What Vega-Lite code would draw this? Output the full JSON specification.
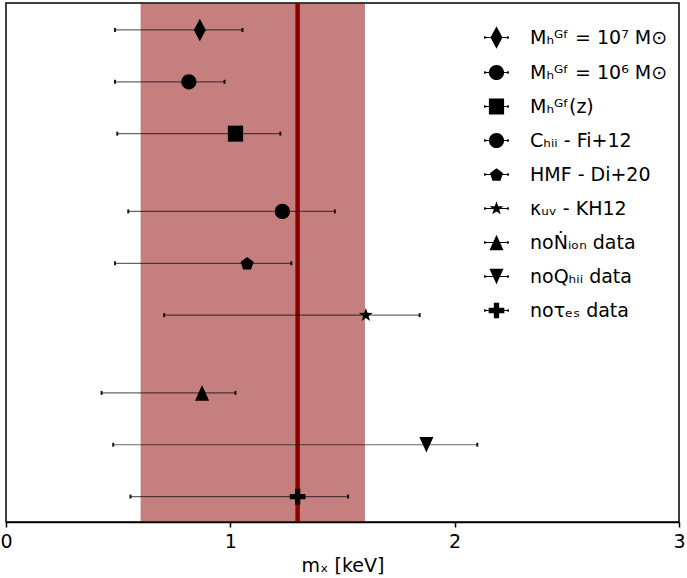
{
  "$schema": "https://vega.github.io/schema/vega-lite/v6.json",
  "width": 673,
  "height": 519,
  "autosize": {"type": "none"},
  "padding": {"left": 6, "top": 3, "right": 8, "bottom": 56},
  "background": "white",
  "config": {
    "font": "DejaVu Sans",
    "view": {"stroke": "black", "strokeWidth": 1.5},
    "axis": {"grid": false}
  },
  "datasets": {
    "pts": [
      {"pos": 0, "label": "Mₕᴳᶠ = 10⁷ M⊙", "mx": 0.864, "lo": 0.486, "hi": 1.054},
      {"pos": 1, "label": "Mₕᴳᶠ = 10⁶ M⊙", "mx": 0.815, "lo": 0.486, "hi": 0.974},
      {"pos": 2, "label": "Mₕᴳᶠ(z)", "mx": 1.023, "lo": 0.496, "hi": 1.223},
      {"pos": 3.5, "label": "Cₕᵢᵢ - Fi+12", "mx": 1.232, "lo": 0.545, "hi": 1.466},
      {"pos": 4.5, "label": "HMF - Di+20", "mx": 1.075, "lo": 0.486, "hi": 1.272},
      {"pos": 5.5, "label": "κᵤᵥ - KH12", "mx": 1.604, "lo": 0.705, "hi": 1.844},
      {"pos": 7, "label": "noṄᵢₒₙ data", "mx": 0.874, "lo": 0.426, "hi": 1.023},
      {"pos": 8, "label": "noQₕᵢᵢ data", "mx": 1.874, "lo": 0.478, "hi": 2.101},
      {"pos": 9, "label": "noτₑₛ data", "mx": 1.3, "lo": 0.555, "hi": 1.525}
    ],
    "band": [{"lo": 0.6, "hi": 1.6, "best": 1.3}]
  },
  "encoding": {},
  "layer": [
    {
      "data": {"name": "band"},
      "mark": {"type": "rect", "color": "#8b0000", "opacity": 0.5},
      "encoding": {
        "x": {"field": "lo", "type": "quantitative", "title": "mₓ [keV]", "scale": {"domain": [0, 3], "nice": false, "zero": false},
          "axis": {"values": [0, 1, 2, 3], "format": "d", "title": "mₓ [keV]", "labelFontSize": 19, "titleFontSize": 19, "titleFontWeight": "normal",
            "labelColor": "black", "titleColor": "black", "domainColor": "black", "domainWidth": 1.5, "tickColor": "black", "tickWidth": 1.5,
            "tickSize": 5, "labelPadding": 5, "titlePadding": 5, "labelFlush": false}},
        "x2": {"field": "hi"}
      }
    },
    {
      "data": {"name": "band"},
      "mark": {"type": "rule", "color": "#8b0000", "strokeWidth": 4.5},
      "encoding": {"x": {"field": "best", "type": "quantitative", "title": "mₓ [keV]"}}
    },
    {
      "data": {"name": "pts"},
      "mark": {"type": "errorbar", "ticks": {"size": 4, "thickness": 2, "color": "black", "opacity": 0.9}, "rule": {"strokeWidth": 1.2, "color": "black", "opacity": 0.6}},
      "encoding": {
        "x": {"field": "lo", "type": "quantitative", "title": "mₓ [keV]"},
        "x2": {"field": "hi"},
        "y": {"field": "pos", "type": "quantitative", "scale": {"domain": [-0.52, 9.49], "reverse": true, "nice": false, "zero": false}, "axis": null}
      }
    },
    {
      "data": {"name": "pts"},
      "mark": {"type": "point", "filled": true, "color": "black", "opacity": 1, "size": 256, "strokeWidth": 0},
      "encoding": {
        "x": {"field": "mx", "type": "quantitative", "title": "mₓ [keV]"},
        "y": {"field": "pos", "type": "quantitative"},
        "shape": {
          "field": "label", "type": "nominal", "legend": null,
          "scale": {
            "domain": ["Mₕᴳᶠ = 10⁷ M⊙", "Mₕᴳᶠ = 10⁶ M⊙", "Mₕᴳᶠ(z)", "Cₕᵢᵢ - Fi+12", "HMF - Di+20", "κᵤᵥ - KH12", "noṄᵢₒₙ data", "noQₕᵢᵢ data", "noτₑₛ data"],
            "range": [
              "M0,-1.4L0.75,0L0,1.4L-0.75,0Z",
              "M0.95,0A0.95,0.95,0,1,1,-0.95,0A0.95,0.95,0,1,1,0.95,0Z",
              "M-0.95,-1H0.95V1H-0.95Z",
              "M0.95,0A0.95,0.95,0,1,1,-0.95,0A0.95,0.95,0,1,1,0.95,0Z",
              "M0,-0.77L0.81,-0.18L0.5,0.77L-0.5,0.77L-0.81,-0.18Z",
              "M0,-0.9L0.212,-0.291L0.856,-0.278L0.342,0.111L0.529,0.728L0,0.36L-0.529,0.728L-0.342,0.111L-0.856,-0.278L-0.212,-0.291Z",
              "M0,-0.98L0.88,0.98L-0.88,0.98Z",
              "M0,0.98L-0.88,-0.98L0.88,-0.98Z",
              "M-0.33,-0.98H0.33V-0.33H0.98V0.33H0.33V0.98H-0.33V0.33H-0.98V-0.33H-0.33Z"
            ]
          }
        }
      }
    },
    {
      "data": {"name": "pts"},
      "mark": {"type": "point", "filled": true, "color": "black", "opacity": 0, "size": 256, "strokeWidth": 0},
      "encoding": {
        "x": {"field": "mx", "type": "quantitative", "title": "mₓ [keV]"},
        "y": {"field": "pos", "type": "quantitative"},
        "shape": {
          "field": "label", "type": "nominal",
          "legend": {
            "title": null, "orient": "none", "legendX": 481, "legendY": 25,
            "symbolSize": 256, "symbolOpacity": 1, "symbolFillColor": "black", "symbolStrokeWidth": 0,
            "labelFontSize": 19, "labelColor": "black", "labelLimit": 300, "labelOffset": 24, "rowPadding": 14
          },
          "scale": {
            "domain": ["Mₕᴳᶠ = 10⁷ M⊙", "Mₕᴳᶠ = 10⁶ M⊙", "Mₕᴳᶠ(z)", "Cₕᵢᵢ - Fi+12", "HMF - Di+20", "κᵤᵥ - KH12", "noṄᵢₒₙ data", "noQₕᵢᵢ data", "noτₑₛ data"],
            "range": [
              "M0,-1.4L0.75,0L0,1.4L-0.75,0Z M-1.45,-0.06H1.45V0.06H-1.45Z M-1.55,-0.16H-1.35V0.16H-1.55Z M1.35,-0.16H1.55V0.16H1.35Z",
              "M0.95,0A0.95,0.95,0,1,1,-0.95,0A0.95,0.95,0,1,1,0.95,0Z M-1.45,-0.06H1.45V0.06H-1.45Z M-1.55,-0.16H-1.35V0.16H-1.55Z M1.35,-0.16H1.55V0.16H1.35Z",
              "M-0.95,-1H0.95V1H-0.95Z M-1.45,-0.06H1.45V0.06H-1.45Z M-1.55,-0.16H-1.35V0.16H-1.55Z M1.35,-0.16H1.55V0.16H1.35Z",
              "M0.95,0A0.95,0.95,0,1,1,-0.95,0A0.95,0.95,0,1,1,0.95,0Z M-1.45,-0.06H1.45V0.06H-1.45Z M-1.55,-0.16H-1.35V0.16H-1.55Z M1.35,-0.16H1.55V0.16H1.35Z",
              "M0,-0.77L0.81,-0.18L0.5,0.77L-0.5,0.77L-0.81,-0.18Z M-1.45,-0.06H1.45V0.06H-1.45Z M-1.55,-0.16H-1.35V0.16H-1.55Z M1.35,-0.16H1.55V0.16H1.35Z",
              "M0,-0.9L0.212,-0.291L0.856,-0.278L0.342,0.111L0.529,0.728L0,0.36L-0.529,0.728L-0.342,0.111L-0.856,-0.278L-0.212,-0.291Z M-1.45,-0.06H1.45V0.06H-1.45Z M-1.55,-0.16H-1.35V0.16H-1.55Z M1.35,-0.16H1.55V0.16H1.35Z",
              "M0,-0.98L0.88,0.98L-0.88,0.98Z M-1.45,-0.06H1.45V0.06H-1.45Z M-1.55,-0.16H-1.35V0.16H-1.55Z M1.35,-0.16H1.55V0.16H1.35Z",
              "M0,0.98L-0.88,-0.98L0.88,-0.98Z M-1.45,-0.06H1.45V0.06H-1.45Z M-1.55,-0.16H-1.35V0.16H-1.55Z M1.35,-0.16H1.55V0.16H1.35Z",
              "M-0.33,-0.98H0.33V-0.33H0.98V0.33H0.33V0.98H-0.33V0.33H-0.98V-0.33H-0.33Z M-1.45,-0.06H1.45V0.06H-1.45Z M-1.55,-0.16H-1.35V0.16H-1.55Z M1.35,-0.16H1.55V0.16H1.35Z"
            ]
          }
        }
      }
    }
  ],
  "resolve": {"scale": {"shape": "independent"}}
}
